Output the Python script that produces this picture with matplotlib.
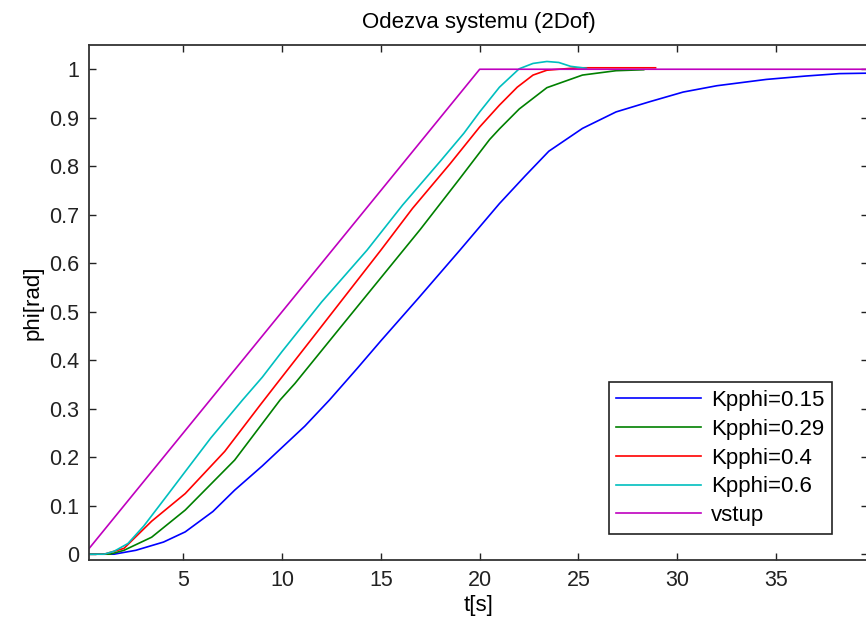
import matplotlib.pyplot as plt

plt.rcParams['font.family'] = ['Liberation Sans', 'DejaVu Sans']

# values
t_015 = [0.23, 1.5, 2.6, 4.0, 5.1, 6.5, 7.6, 9.0, 10.1, 11.15, 12.4, 13.8, 15.0, 16.9,
         19.0, 21.0, 22.3, 23.5, 25.2, 26.9, 28.6, 30.3, 32.0, 34.5, 36.5, 38.2, 39.8]
v_015 = [0.0, 0.0, 0.008, 0.025, 0.046, 0.088, 0.132, 0.182, 0.224, 0.264, 0.318, 0.383, 0.44, 0.528,
         0.627, 0.723, 0.78, 0.831, 0.878, 0.912, 0.933, 0.953, 0.966, 0.979, 0.986, 0.991, 0.992]

t_029 = [0.23, 1.3, 2.0, 3.4, 5.1, 7.6, 9.9, 10.65, 13.0, 16.0, 17.0, 19.0, 20.5, 21.0,
         22.0, 23.4, 25.2, 26.9, 28.3]
v_029 = [0.0, 0.0, 0.008, 0.035, 0.091, 0.194, 0.318, 0.352, 0.47, 0.62, 0.67, 0.775, 0.855, 0.877,
         0.918, 0.962, 0.988, 0.997, 0.999]

t_04 = [0.23, 1.0, 2.0, 3.4, 5.1, 7.1, 8.9, 9.7, 12.0, 15.0, 16.6, 18.5, 20.0, 21.0,
        21.9, 22.7, 23.4, 24.0, 25.0, 28.9]
v_04 = [0.0, 0.0, 0.012, 0.068, 0.125, 0.212, 0.308, 0.35, 0.47, 0.627, 0.713, 0.805, 0.881, 0.926,
        0.963, 0.988, 0.998, 1.0, 1.003, 1.003]

t_06 = [0.23, 1.0, 1.5, 2.2, 3.0, 4.2, 5.0, 6.4, 8.0, 9.0, 10.0, 12.0, 14.3, 16.1,
        18.0, 19.2, 20.0, 21.0, 22.0, 22.7, 23.4, 24.0, 24.6, 25.4]
v_06 = [0.0, 0.0, 0.006, 0.022, 0.058, 0.122, 0.165, 0.24, 0.318, 0.365, 0.418, 0.52, 0.627, 0.72,
        0.81, 0.868, 0.912, 0.963, 1.001, 1.012, 1.016, 1.014, 1.006, 1.002]

t_in = [0.23, 20.0, 39.8]
v_in = [0.0115, 1.0, 1.0]

labels = ['Kpphi=0.15', 'Kpphi=0.29', 'Kpphi=0.4', 'Kpphi=0.6', 'vstup']
colors = ['#0000ff', '#008000', '#ff0000', '#00bfbf', '#bf00bf']

fig = plt.figure(figsize=(8.66, 6.17), dpi=100)
ax = fig.add_axes([89 / 866, 57 / 617, 779 / 866, 515 / 617])

series = [(t_015, v_015), (t_029, v_029), (t_04, v_04), (t_06, v_06), (t_in, v_in)]
for (t, v), lab, c in zip(series, labels, colors):
    ax.plot(t, v, color=c, lw=1.2, label=lab)

ax.set_xlim(0.23, 39.65)
ax.set_ylim(-0.012, 1.05)
ax.set_xticks([5, 10, 15, 20, 25, 30, 35])
ax.set_yticks([0, 0.1, 0.2, 0.3, 0.4, 0.5, 0.6, 0.7, 0.8, 0.9, 1])
ax.set_yticklabels(['0', '0.1', '0.2', '0.3', '0.4', '0.5', '0.6', '0.7', '0.8', '0.9', '1'])
ax.tick_params(direction='in', length=5, width=1, top=True, right=True,
               labelsize=15.5, colors='#222222', pad=7)
for s in ax.spines.values():
    s.set_linewidth(1.3)
    s.set_color('#333333')

ax.set_title('Odezva systemu (2Dof)', fontsize=16, pad=12)
ax.set_xlabel('t[s]', fontsize=16, labelpad=3)
ax.set_ylabel('phi[rad]', fontsize=16, labelpad=4)

leg = fig.legend(loc='lower right', bbox_to_anchor=(832 / 866, 83 / 617), fontsize=16,
                 fancybox=False, edgecolor='#222222', framealpha=1, handlelength=3.8,
                 handletextpad=0.45, labelspacing=0.35, borderpad=0.35, borderaxespad=0)
leg.get_frame().set_linewidth(1.2)

fig.savefig('out.png', dpi=100)
